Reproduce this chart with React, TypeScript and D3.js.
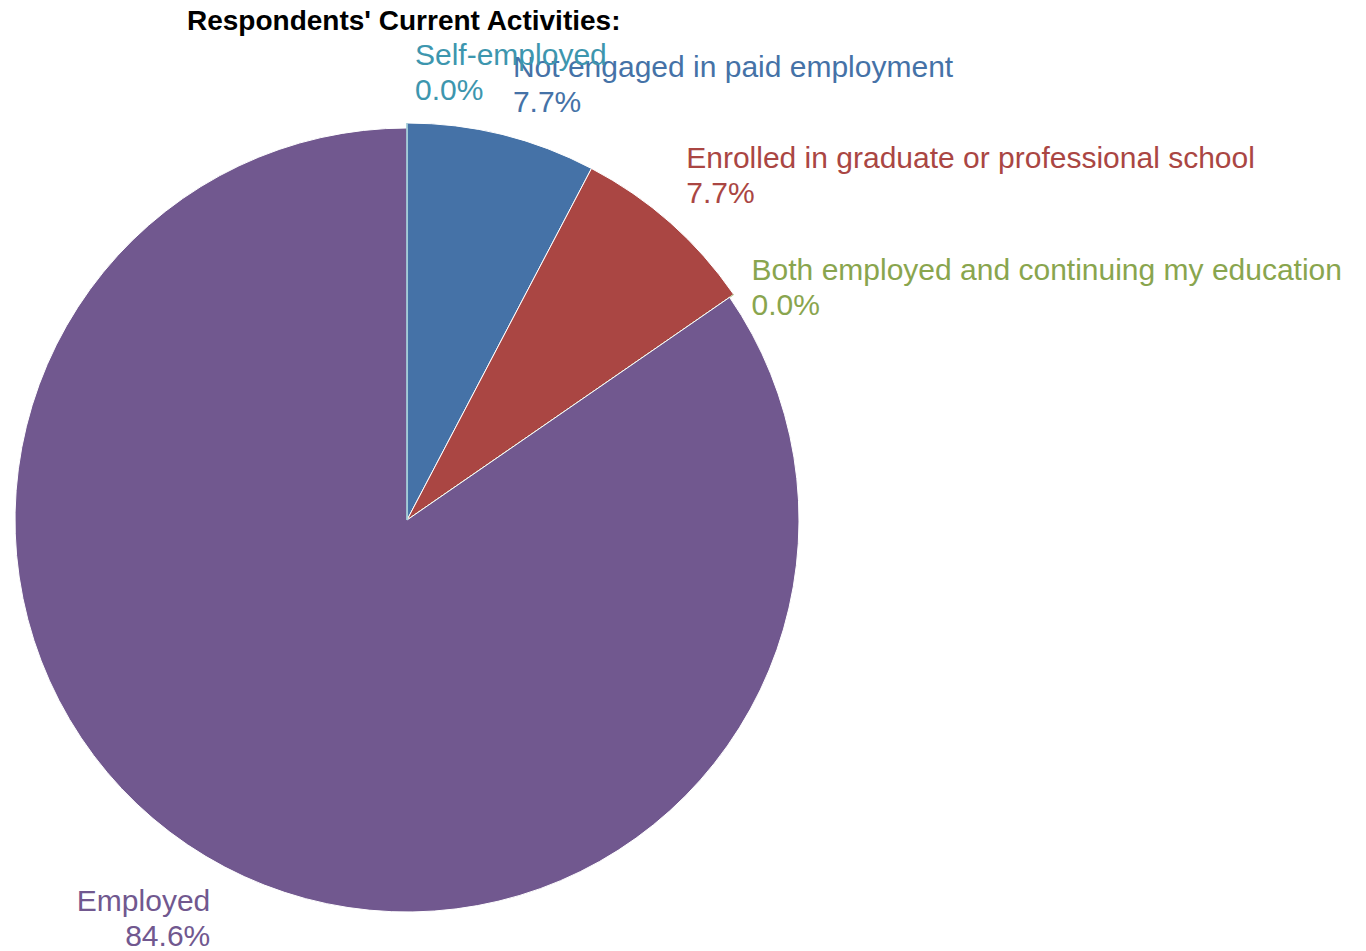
import React, { useEffect, useRef } from 'react';
import * as d3 from 'd3';

const categories = [
  'Not engaged in paid employment',
  'Enrolled in graduate or professional school',
  'Both employed and continuing my education',
  'Employed',
  'Self-employed',
];
const respondents = [1, 1, 0, 11, 0];
const sliceColors = ['#4572A7', '#AA4643', '#89A54E', '#71588F', '#3D96AE'];
const chartTitle = "Respondents' Current Activities:";

const App: React.FC = () => {
  const chartRef = useRef(null);

  const renderChart = () => {
    const svg = d3.select(chartRef.current);
    const width = 1366;
    const height = 951;
    const cx = 407;
    const cy = 520;
    const radius = 397;
    const font = "'Liberation Sans', Arial, sans-serif";

    svg.selectAll('*').remove();
    svg.attr('width', width).attr('height', height);

    const total = d3.sum(respondents);
    const data = categories.map((name, i) => ({
      name,
      value: respondents[i],
      color: sliceColors[i],
    }));

    const pie = d3
      .pie()
      .sort(null)
      .value((d) => d.value);
    const arcs = pie(data);

    // the big slice sits a bit inside the others
    const outer = (d) => (d.data.value > total / 2 ? radius - 5 : radius);
    const arc = d3
      .arc()
      .innerRadius(0)
      .outerRadius((d) => outer(d));

    const g = svg.append('g').attr('transform', `translate(${cx},${cy})`);

    g.selectAll('path.slice')
      .data(arcs)
      .enter()
      .append('path')
      .attr('class', 'slice')
      .attr('d', arc)
      .attr('fill', (d) => d.data.color)
      .attr('stroke', (d) =>
        d.data.value === 0 ? d3.interpolateRgb(d.data.color, '#fff')(0.45) : '#fff'
      )
      .attr('stroke-width', 1)
      .attr('stroke-linejoin', 'round');

    const labels = g
      .selectAll('text.label')
      .data(arcs)
      .enter()
      .append('text')
      .attr('class', 'label')
      .attr('font-family', font)
      .attr('font-size', 30)
      .attr('fill', (d) => d.data.color);

    labels.each(function (d) {
      const a = (d.startAngle + d.endAngle) / 2;
      const rr = outer(d) + 12;
      const s = Math.sin(a);
      const c = Math.cos(a);
      const px = rr * s;
      const py = -rr * c;
      const right = s >= -0.01;
      const x = px + (right ? 8 : -9);
      let y1;
      if (c > 0.7) y1 = py - 46;
      else if (c < -0.7) y1 = py + 33;
      else y1 = py - 8;
      const t = d3.select(this).attr('text-anchor', right ? 'start' : 'end');
      t.append('tspan').attr('x', x).attr('y', y1).text(d.data.name);
      t.append('tspan')
        .attr('x', x)
        .attr('y', y1 + 35)
        .text(d3.format('.1%')(d.data.value / total));
    });

    svg
      .append('text')
      .attr('x', 187)
      .attr('y', 30)
      .attr('font-family', font)
      .attr('font-size', 28)
      .attr('font-weight', 'bold')
      .attr('fill', '#000')
      .text(chartTitle);
  };

  useEffect(() => {
    renderChart();
  }, []);

  return (
    <svg
      ref={chartRef}
      style={{ position: 'absolute', left: 0, top: 0, display: 'block', background: '#fff' }}
    ></svg>
  );
};

export default App;
